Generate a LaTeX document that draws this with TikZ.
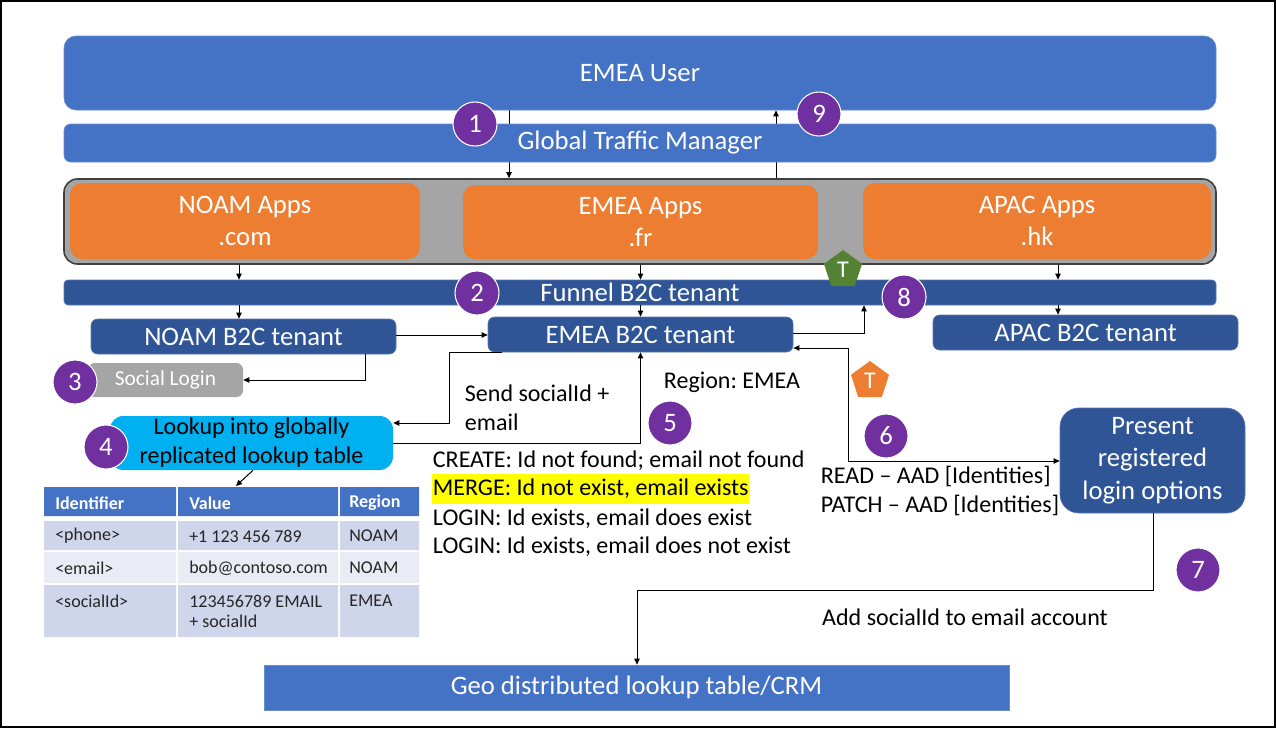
\documentclass[tikz,border=0pt]{standalone}
\usepackage{fontspec}
\setmainfont{Carlito}
\frenchspacing
\usetikzlibrary{arrows.meta,shapes.geometric,backgrounds}
\definecolor{blueA}{HTML}{4472C4}
\definecolor{blueD}{HTML}{2F5597}
\definecolor{orangeA}{HTML}{ED7D31}
\definecolor{grayA}{HTML}{A5A5A5}
\definecolor{grayB}{HTML}{404040}
\definecolor{cyanA}{HTML}{00B0F0}
\definecolor{purpleA}{HTML}{7030A0}
\definecolor{greenA}{HTML}{548235}
\definecolor{rowA}{HTML}{CFD5EA}
\definecolor{rowB}{HTML}{E9EBF5}
\definecolor{yellowA}{HTML}{FFFF00}
\begin{document}
\begin{tikzpicture}[x=0.75pt,y=-0.75pt,
  big/.style={font=\fontsize{20}{24.5}\selectfont},
  box/.style={inner sep=0pt, text=white, align=center, big},
  bluebox/.style={box, fill=blueA, draw=blueA!80!white, line width=0.5pt},
  darkbox/.style={box, fill=blueD, draw=blueD!80!white, line width=0.5pt},
  appbox/.style={box, fill=orangeA, rounded corners=9pt},
  num/.style={circle, fill=purpleA, draw=white, line width=0.8pt, minimum size=33pt, inner sep=0pt, text=white, big},
  pent/.style={regular polygon, regular polygon sides=5, minimum size=30pt, inner sep=0pt, text=white, font=\fontsize{18}{20}\selectfont},
  lbl/.style={font=\fontsize{18}{21.75}\selectfont, anchor=west, align=left, inner xsep=0.5pt, inner ysep=1pt},
  cell/.style={font=\fontsize{13.5}{15}\selectfont, anchor=west, align=left, inner sep=0pt, text=black!85},
  hcell/.style={font=\bfseries\fontsize{13.5}{15}\selectfont, anchor=west, inner sep=0pt, text=white},
  arr/.style={line width=0.75pt, -{Triangle[length=4.5pt,width=4pt]}},
  arrs/.style={line width=0.75pt, {Triangle[length=4.5pt,width=4pt]}-{Triangle[length=4.5pt,width=4pt]}},
]
\useasboundingbox (0,0) rectangle (1276,728);

% boxes
\node[bluebox, rounded corners=9pt, minimum width=864pt, minimum height=55.5pt] (user) at (640,73) {EMEA User};
\node[bluebox, rounded corners=5pt, minimum width=864pt, minimum height=28.5pt] (gtm) at (640,143) {Global Traffic Manager};
\node[fill=grayA, draw=grayB, line width=1.2pt, rounded corners=10pt, inner sep=0pt, minimum width=864pt, minimum height=63.75pt] (cont) at (640,221.5) {};
\node[appbox, minimum width=262.5pt, minimum height=57pt] (noamapps) at (245,221) {NOAM Apps\\.com};
\node[appbox, minimum width=266.25pt, minimum height=55.5pt] (emeaapps) at (640.5,222) {EMEA Apps\\.fr};
\node[appbox, minimum width=261pt, minimum height=57pt] (apacapps) at (1037,221) {APAC Apps\\.hk};
\node[darkbox, rounded corners=3pt, minimum width=864pt, minimum height=18.75pt] (fun) at (640,292.5) {Funnel B2C tenant};
\node[darkbox, rounded corners=5pt, minimum width=228.75pt, minimum height=26.25pt] (noamt) at (243.5,336.5) {NOAM B2C tenant};
\node[darkbox, rounded corners=5pt, minimum width=228.75pt, minimum height=26.25pt] (emeat) at (640.5,334.5) {EMEA B2C tenant};
\node[darkbox, rounded corners=5pt, minimum width=228.75pt, minimum height=26.25pt] (apact) at (1085.5,332.5) {APAC B2C tenant};
\node[box, fill=grayA, rounded corners=5pt, font=\fontsize{16}{19}\selectfont, minimum width=116.25pt, minimum height=25.5pt] (social) at (165.5,380) {Social Login};
\node[box, fill=cyanA, text=black, rounded corners=10pt, font=\fontsize{18}{21.75}\selectfont, minimum width=212.25pt, minimum height=40.5pt] (lookup) at (251.5,443) {Lookup into globally\\replicated lookup table};
\node[darkbox, rounded corners=14pt, minimum width=138.75pt, minimum height=78.75pt] (present) at (1152.5,460.5) {Present\\registered\\login options};
\node[bluebox, minimum width=558.75pt, minimum height=33.75pt] (geo) at (636.5,687.5) {Geo distributed lookup table/CRM};

% table
\fill[blueA] (44,487) rectangle (176,516) (178,487) rectangle (338,516) (340,487) rectangle (419,516);
\fill[rowA] (44,521) rectangle (176,550) (178,521) rectangle (338,550) (340,521) rectangle (419,550);
\fill[rowB] (44,552) rectangle (176,583) (178,552) rectangle (338,583) (340,552) rectangle (419,583);
\fill[rowA] (44,585) rectangle (176,637) (178,585) rectangle (338,637) (340,585) rectangle (419,637);
\node[hcell] (h1) at (55,503) {Identifier};
\node[hcell] (h2) at (189,503) {Value};
\node[hcell] (h3) at (349,503) {Region};
\node[cell] (c11) at (55,536) {<phone>};
\node[cell] (c12) at (189,536) {+1 123 456 789};
\node[cell] (c13) at (349,536) {NOAM};
\node[cell] (c21) at (55,568) {<email>};
\node[cell] (c22) at (189,568) {bob@contoso.com};
\node[cell] (c23) at (349,568) {NOAM};
\node[cell] (c31) at (55,601) {<socialId>};
\node[cell] (c32) at (189,611) {123456789 EMAIL\\+ socialId};
\node[cell] (c33) at (349,601) {EMEA};
\coordinate (tabtop) at (236,486);

% labels
\node[lbl] (send) at (464,407.5) {Send socialId +\\email};
\node[lbl] (region) at (663,382) {Region: EMEA};
\node[lbl] (create) at (432,461) {CREATE: Id not found; email not found};
\node[lbl, fill=yellowA, minimum height=22.5pt] (merge) at (432,489) {MERGE: Id not exist, email exists};
\node[lbl] (login1) at (432,519) {LOGIN: Id exists, email does exist};
\node[lbl] (login2) at (432,547) {LOGIN: Id exists, email does not exist};
\node[lbl] (readpatch) at (820,490.5) {READ – AAD [Identities]\\PATCH – AAD [Identities]};
\node[font=\fontsize{18}{21.75}\selectfont, inner sep=1pt] (addsoc) at (965,617) {Add socialId to email account};

% numbered circles
\node[num] (n1) at (475,124) {1};
\node[num] (n9) at (819,114) {9};
\node[num] (n2) at (477,293) {2};
\node[num] (n8) at (904,297) {8};
\node[num] (n3) at (75,382) {3};
\node[num] (n4) at (106,447) {4};
\node[num] (n5) at (670,423) {5};
\node[num] (n6) at (886,436) {6};
\node[num] (n7) at (1198,570) {7};

% pentagons
\node[pent, fill=greenA] (tg) at (843,270) {T};
\node[pent, fill=orangeA] (to) at (870,381) {T};

% helper coordinates
\coordinate (xa) at (509,0);
\coordinate (xb) at (776,0);
\coordinate (xc) at (239,0);
\coordinate (xd) at (640.5,0);
\coordinate (xe) at (1058,0);
\coordinate (xf) at (365,0);
\coordinate (xg) at (502,0);
\coordinate (xh) at (449,0);
\coordinate (xi) at (864,0);
\coordinate (xj) at (848,0);
\coordinate (xk) at (1153,0);
\coordinate (xl) at (637,0);
\coordinate (xm) at (253,0);
\coordinate (ya) at (0,423);
\coordinate (yb) at (0,443);
\coordinate (yc) at (0,333);
\coordinate (yd) at (0,348);
\coordinate (ye) at (0,461);
\coordinate (yf) at (0,590);
\coordinate (yg) at (0,335);

\begin{pgfonlayer}{background}
\fill[white] (0,0) rectangle (1276,728);
\draw[arr] (user.south -| xa) -- (cont.north -| xa);
\draw[arr] (cont.north -| xb) -- (user.south -| xb);
\end{pgfonlayer}

% connectors
\draw[arr] (cont.south -| xc) -- (fun.north -| xc);
\draw[arr] (cont.south -| xd) -- (fun.north -| xd);
\draw[arr] (cont.south -| xe) -- (fun.north -| xe);
\draw[arr] (fun.south -| xc) -- (noamt.north -| xc);
\draw[arr] (fun.south -| xd) -- (emeat.north -| xd);
\draw[arr] (fun.south -| xe) -- (apact.north -| xe);
\draw[arr] (noamt.east |- yg) -- (emeat.west |- yg);
\draw[arr] (noamt.south -| xf) |- (social.east);
\draw[arr] (emeat.south -| xg) -| (xh |- ya) -- (lookup.east |- ya);
\draw[arr] (lookup.east |- yb) -| (emeat.south -| xd);
\draw[arr] (emeat.east |- yc) -| (fun.south -| xi);
\draw[arrs] (emeat.east |- yd) -| (xj |- ye) -- (present.west |- ye);
\draw[arr] (present.south -| xk) -- (xk |- yf) -| (geo.north -| xl);
\draw[arr] (lookup.south -| xm) -- (tabtop);

% frame
\draw[line width=1.6pt] (1,1) rectangle (1275,727);
\end{tikzpicture}
\end{document}
